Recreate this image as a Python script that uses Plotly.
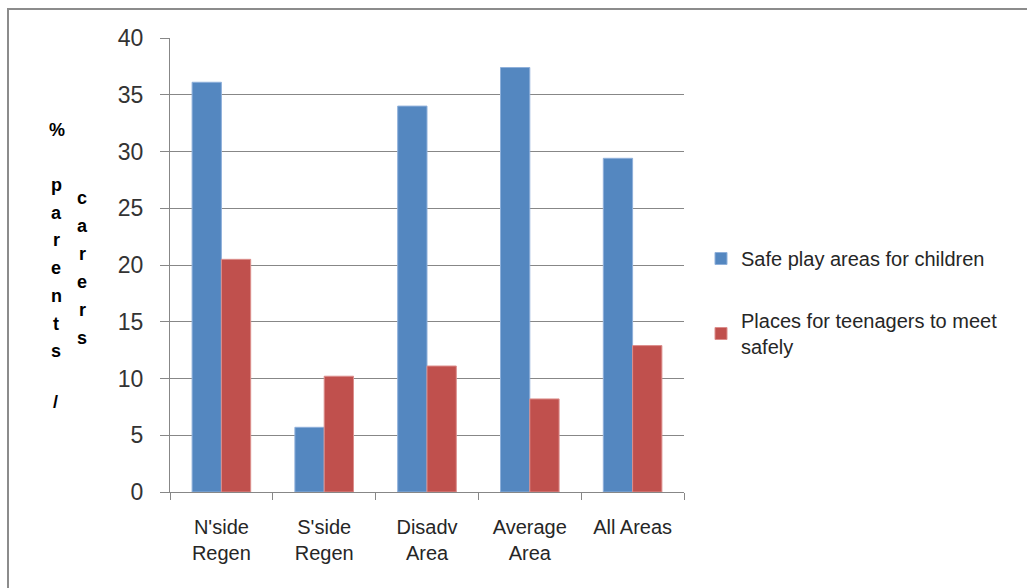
import plotly.graph_objects as go

# Survey results: % of parents / carers naming each improvement
areas = ["N'side<br>Regen", "S'side<br>Regen", "Disadv<br>Area", "Average<br>Area", "All Areas"]
safe_play = [36.1, 5.7, 34.0, 37.4, 29.4]
teen_places = [20.5, 10.2, 11.1, 8.2, 12.9]
series_names = ["Safe play areas for children", "Places for teenagers to meet<br>safely"]

BLUE = "#5487C0"
RED = "#C0504D"
GRID = "#878787"
FONT = "Liberation Sans, Arial, sans-serif"

W, H = 1027, 588
L, R, T, B = 170, 343, 38, 96
PW, PH = W - L - R, H - T - B


def px_x(x):
    return (x - L) / PW


def px_y(y):
    return (H - B - y) / PH


fig = go.Figure()
fig.add_trace(go.Bar(
    x=areas, y=safe_play, name=series_names[0], legendgroup="a",
    marker=dict(color=BLUE, line=dict(color="#8FB0DA", width=1)),
))
fig.add_trace(go.Bar(
    x=areas, y=teen_places, name=series_names[1], legendgroup="b",
    marker=dict(color=RED, line=dict(color="#DC8E8C", width=1)),
))

annotations = []
# stacked vertical axis title: "% parents / carers"
annotations.append(dict(text="<b>%</b>", x=px_x(57), y=px_y(130)))
for i, ch in enumerate("parents"):
    annotations.append(dict(text=f"<b>{ch}</b>", x=px_x(56), y=px_y(185 + i * 27.7)))
for i, ch in enumerate("carers"):
    annotations.append(dict(text=f"<b>{ch}</b>", x=px_x(82), y=px_y(198 + i * 28)))
annotations.append(dict(text="<b>/</b>", x=px_x(55), y=px_y(402)))
for a in annotations:
    a.update(xref="paper", yref="paper", showarrow=False, xanchor="center",
             yanchor="middle", font=dict(family=FONT, size=18, color="#000000"))

fig.update_layout(
    width=W, height=H,
    margin=dict(l=L, r=R, t=T, b=B, pad=0),
    paper_bgcolor="white", plot_bgcolor="white",
    font=dict(family=FONT, color="#262626"),
    barmode="group", bargap=0.43, bargroupgap=0,
    showlegend=True,
    legend=dict(
        x=px_x(701), y=px_y(239), xanchor="left", yanchor="top",
        font=dict(family=FONT, size=20, color="#262626"),
        traceorder="grouped", tracegroupgap=33,
        bgcolor="rgba(0,0,0,0)",
    ),
    xaxis=dict(
        type="category", tickson="boundaries", ticks="outside", ticklen=7,
        tickcolor=GRID, showline=True, linecolor=GRID, linewidth=1,
        showgrid=False, tickfont=dict(family=FONT, size=20, color="#262626"),
        ticklabelstandoff=17,
    ),
    yaxis=dict(
        range=[0, 40], dtick=5, ticks="outside", ticklen=9, tickcolor=GRID,
        showline=True, linecolor=GRID, linewidth=1,
        showgrid=True, gridcolor=GRID, gridwidth=1, zeroline=False,
        tickfont=dict(family=FONT, size=23, color="#333333"),
        ticklabelstandoff=12,
    ),
    annotations=annotations,
    shapes=[dict(
        type="rect", xref="paper", yref="paper",
        x0=px_x(8), x1=px_x(1040), y0=px_y(600), y1=px_y(9),
        line=dict(color="#8C8C8C", width=2), fillcolor="rgba(0,0,0,0)",
        layer="below",
    )],
)

fig.write_html("out.html")
